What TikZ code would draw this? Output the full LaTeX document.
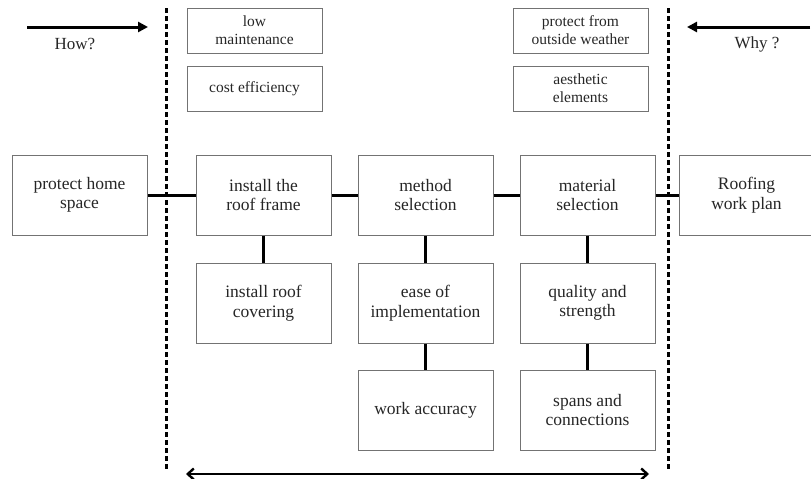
\documentclass[tikz,border=0pt]{standalone}
\usepackage{fontspec}
\setmainfont{Liberation Serif}
\usetikzlibrary{arrows.meta}
\begin{document}
\begin{tikzpicture}[x=1pt,y=-1pt,
  box/.style={draw=black!55,line width=1pt,minimum width=135pt,minimum height=80pt,
    align=center,inner sep=2pt,font=\fontsize{17.5}{19.5}\selectfont,text=black!85},
  smallbox/.style={draw=black!55,line width=1pt,minimum width=135pt,minimum height=45pt,
    align=center,inner sep=2pt,font=\fontsize{15.5}{18}\selectfont,text=black!85},
  link/.style={line width=3pt,black},
  divider/.style={line width=3pt,dash pattern=on 5pt off 3pt,black},
  flow/.style={line width=3pt,-{Triangle[length=10pt,width=10pt]}},
  span/.style={line width=2.4pt,{Straight Barb[length=6pt,width=11pt]}-{Straight Barb[length=6pt,width=11pt]}},
  lbl/.style={font=\fontsize{17}{19}\selectfont,text=black!85}]
\useasboundingbox (0,0) rectangle (811,479);

% column guides
\coordinate (dlt) at (166,8);  \coordinate (dlb) at (166,471);
\coordinate (drt) at (668,8);  \coordinate (drb) at (668,471);

% top criteria boxes
\node[smallbox] (lowm)  at (254.5,30.5) {low\\maintenance};
\node[smallbox] (cost)  at (254.5,88.5) {cost efficiency};
\node[smallbox] (prot)  at (580.5,30.5) {protect from\\outside weather};
\node[smallbox] (aest)  at (580.5,88.5) {aesthetic\\elements};

% main row
\node[box] (home)  at (79.5,195)  {protect home\\space};
\node[box] (frame) at (263.5,195) {install the\\roof frame};
\node[box] (meth)  at (425.5,195) {method\\selection};
\node[box] (mat)   at (587.5,195) {material\\selection};
\node[box] (plan)  at (746.5,195) {Roofing\\work plan};

% second row
\node[box] (cover) at (263.5,303) {install roof\\covering};
\node[box] (ease)  at (425.5,303) {ease of\\implementation};
\node[box] (qual)  at (587.5,303) {quality and\\strength};

% third row
\node[box] (acc)   at (425.5,410) {work accuracy};
\node[box] (spans) at (587.5,410) {spans and\\connections};

% dashed dividers
\draw[divider] (dlt) -- (dlb);
\draw[divider] (drt) -- (drb);

% connectors
\draw[link] (home) -- (frame);
\draw[link] (frame) -- (meth);
\draw[link] (meth) -- (mat);
\draw[link] (mat) -- (plan);
\draw[link] (frame) -- (cover);
\draw[link] (meth) -- (ease);
\draw[link] (ease) -- (acc);
\draw[link] (mat) -- (qual);
\draw[link] (qual) -- (spans);

% direction arrows
\coordinate (howa) at (27,27);  \coordinate (howb) at (148,27);
\coordinate (whya) at (810,27); \coordinate (whyb) at (687,27);
\draw[flow] (howa) -- (howb);
\draw[flow] (whya) -- (whyb);
\node[lbl] (how) at (75,44) {How?};
\node[lbl] (why) at (757,44) {Why ?};

% span arrow along the bottom
\coordinate (spa) at (186,474); \coordinate (spb) at (649,474);
\draw[span] (spa) -- (spb);
\end{tikzpicture}
\end{document}
